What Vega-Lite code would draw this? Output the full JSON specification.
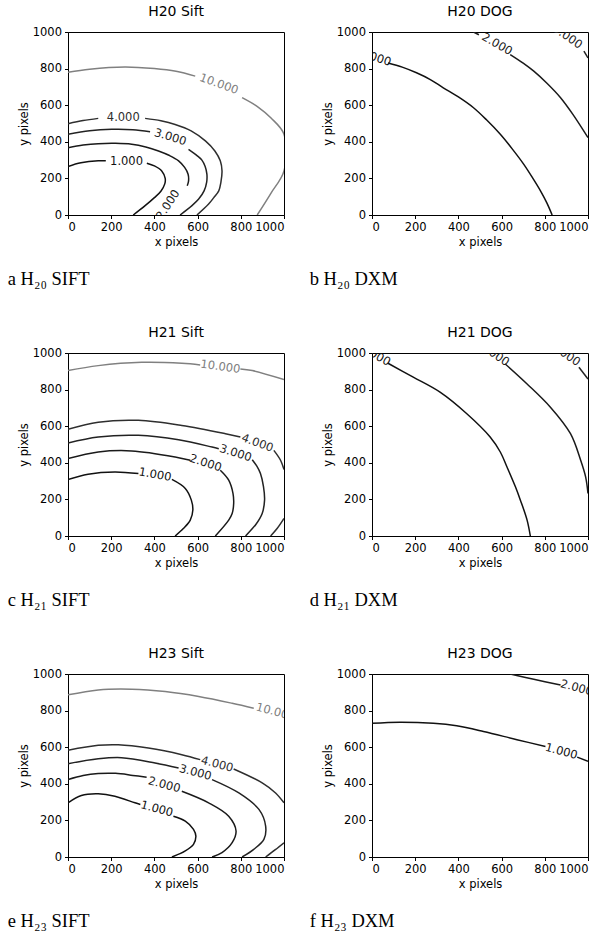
{
  "$schema": "https://vega.github.io/schema/vega-lite/v6.json",
  "padding": {"left": 7, "top": 4, "right": 0, "bottom": 0},
  "datasets": {
    "lines": [
      {"p":"a","lv":10,"s":1,"i":0,"x":0,"y":780},{"p":"a","lv":10,"s":1,"i":1,"x":100,"y":797},{"p":"a","lv":10,"s":1,"i":2,"x":264,"y":809},{"p":"a","lv":10,"s":1,"i":3,"x":400,"y":800},{"p":"a","lv":10,"s":1,"i":4,"x":500,"y":785},{"p":"a","lv":10,"s":1,"i":5,"x":589,"y":759},
      {"p":"a","lv":10,"s":2,"i":0,"x":806,"y":641},{"p":"a","lv":10,"s":2,"i":1,"x":880,"y":590},{"p":"a","lv":10,"s":2,"i":2,"x":940,"y":530},{"p":"a","lv":10,"s":2,"i":3,"x":1000,"y":441},{"p":"a","lv":10,"s":2,"i":4,"x":1000,"y":241},{"p":"a","lv":10,"s":2,"i":5,"x":940,"y":120},{"p":"a","lv":10,"s":2,"i":6,"x":876,"y":0},
      {"p":"a","lv":4,"s":1,"i":0,"x":0,"y":499},{"p":"a","lv":4,"s":1,"i":1,"x":70,"y":516},{"p":"a","lv":4,"s":1,"i":2,"x":140,"y":528},
      {"p":"a","lv":4,"s":2,"i":0,"x":357,"y":528},{"p":"a","lv":4,"s":2,"i":1,"x":430,"y":515},{"p":"a","lv":4,"s":2,"i":2,"x":496,"y":495},{"p":"a","lv":4,"s":2,"i":3,"x":570,"y":460},{"p":"a","lv":4,"s":2,"i":4,"x":636,"y":405},{"p":"a","lv":4,"s":2,"i":5,"x":680,"y":350},{"p":"a","lv":4,"s":2,"i":6,"x":705,"y":296},{"p":"a","lv":4,"s":2,"i":7,"x":713,"y":241},{"p":"a","lv":4,"s":2,"i":8,"x":708,"y":180},{"p":"a","lv":4,"s":2,"i":9,"x":698,"y":132},{"p":"a","lv":4,"s":2,"i":10,"x":675,"y":95},{"p":"a","lv":4,"s":2,"i":11,"x":651,"y":60},{"p":"a","lv":4,"s":2,"i":12,"x":597,"y":0},
      {"p":"a","lv":3,"s":1,"i":0,"x":0,"y":441},{"p":"a","lv":3,"s":1,"i":1,"x":100,"y":460},{"p":"a","lv":3,"s":1,"i":2,"x":202,"y":468},{"p":"a","lv":3,"s":1,"i":3,"x":300,"y":466},{"p":"a","lv":3,"s":1,"i":4,"x":380,"y":455},
      {"p":"a","lv":3,"s":2,"i":0,"x":558,"y":359},{"p":"a","lv":3,"s":2,"i":1,"x":600,"y":322},{"p":"a","lv":3,"s":2,"i":2,"x":620,"y":300},{"p":"a","lv":3,"s":2,"i":3,"x":635,"y":265},{"p":"a","lv":3,"s":2,"i":4,"x":643,"y":223},{"p":"a","lv":3,"s":2,"i":5,"x":642,"y":180},{"p":"a","lv":3,"s":2,"i":6,"x":630,"y":132},{"p":"a","lv":3,"s":2,"i":7,"x":605,"y":87},{"p":"a","lv":3,"s":2,"i":8,"x":574,"y":51},{"p":"a","lv":3,"s":2,"i":9,"x":519,"y":0},
      {"p":"a","lv":2,"s":1,"i":0,"x":0,"y":368},{"p":"a","lv":2,"s":1,"i":1,"x":70,"y":382},{"p":"a","lv":2,"s":1,"i":2,"x":140,"y":390},{"p":"a","lv":2,"s":1,"i":3,"x":220,"y":392},{"p":"a","lv":2,"s":1,"i":4,"x":295,"y":387},{"p":"a","lv":2,"s":1,"i":5,"x":360,"y":372},{"p":"a","lv":2,"s":1,"i":6,"x":419,"y":350},{"p":"a","lv":2,"s":1,"i":7,"x":470,"y":325},{"p":"a","lv":2,"s":1,"i":8,"x":512,"y":296},{"p":"a","lv":2,"s":1,"i":9,"x":540,"y":260},{"p":"a","lv":2,"s":1,"i":10,"x":556,"y":223},{"p":"a","lv":2,"s":1,"i":11,"x":558,"y":185},{"p":"a","lv":2,"s":1,"i":12,"x":552,"y":160},
      {"p":"a","lv":1,"s":1,"i":0,"x":0,"y":265},{"p":"a","lv":1,"s":1,"i":1,"x":60,"y":285},{"p":"a","lv":1,"s":1,"i":2,"x":140,"y":296},{"p":"a","lv":1,"s":1,"i":3,"x":175,"y":296},
      {"p":"a","lv":1,"s":2,"i":0,"x":365,"y":283},{"p":"a","lv":1,"s":2,"i":1,"x":400,"y":268},{"p":"a","lv":1,"s":2,"i":2,"x":434,"y":241},{"p":"a","lv":1,"s":2,"i":3,"x":450,"y":200},{"p":"a","lv":1,"s":2,"i":4,"x":448,"y":170},{"p":"a","lv":1,"s":2,"i":5,"x":430,"y":130},{"p":"a","lv":1,"s":2,"i":6,"x":400,"y":95},{"p":"a","lv":1,"s":2,"i":7,"x":357,"y":51},{"p":"a","lv":1,"s":2,"i":8,"x":302,"y":0},

      {"p":"b","lv":1,"s":1,"i":0,"x":74,"y":831},{"p":"b","lv":1,"s":1,"i":1,"x":140,"y":808},{"p":"b","lv":1,"s":1,"i":2,"x":206,"y":777},{"p":"b","lv":1,"s":1,"i":3,"x":270,"y":740},{"p":"b","lv":1,"s":1,"i":4,"x":330,"y":695},{"p":"b","lv":1,"s":1,"i":5,"x":400,"y":645},{"p":"b","lv":1,"s":1,"i":6,"x":470,"y":586},{"p":"b","lv":1,"s":1,"i":7,"x":530,"y":520},{"p":"b","lv":1,"s":1,"i":8,"x":594,"y":441},{"p":"b","lv":1,"s":1,"i":9,"x":650,"y":360},{"p":"b","lv":1,"s":1,"i":10,"x":702,"y":278},{"p":"b","lv":1,"s":1,"i":11,"x":745,"y":200},{"p":"b","lv":1,"s":1,"i":12,"x":780,"y":132},{"p":"b","lv":1,"s":1,"i":13,"x":810,"y":65},{"p":"b","lv":1,"s":1,"i":14,"x":834,"y":0},
      {"p":"b","lv":2,"s":1,"i":0,"x":470,"y":1000},{"p":"b","lv":2,"s":1,"i":1,"x":495,"y":985},
      {"p":"b","lv":2,"s":2,"i":0,"x":640,"y":877},{"p":"b","lv":2,"s":2,"i":1,"x":700,"y":830},{"p":"b","lv":2,"s":2,"i":2,"x":749,"y":786},{"p":"b","lv":2,"s":2,"i":3,"x":810,"y":720},{"p":"b","lv":2,"s":2,"i":4,"x":873,"y":641},{"p":"b","lv":2,"s":2,"i":5,"x":930,"y":550},{"p":"b","lv":2,"s":2,"i":6,"x":1000,"y":423},
      {"p":"b","lv":3,"s":1,"i":0,"x":981,"y":895},{"p":"b","lv":3,"s":1,"i":1,"x":1000,"y":858},

      {"p":"c","lv":10,"s":1,"i":0,"x":0,"y":904},{"p":"c","lv":10,"s":1,"i":1,"x":140,"y":931},{"p":"c","lv":10,"s":1,"i":2,"x":341,"y":949},{"p":"c","lv":10,"s":1,"i":3,"x":527,"y":944},{"p":"c","lv":10,"s":1,"i":4,"x":612,"y":935},
      {"p":"c","lv":10,"s":2,"i":0,"x":798,"y":913},{"p":"c","lv":10,"s":2,"i":1,"x":853,"y":904},{"p":"c","lv":10,"s":2,"i":2,"x":1000,"y":855},
      {"p":"c","lv":4,"s":1,"i":0,"x":0,"y":583},{"p":"c","lv":4,"s":1,"i":1,"x":140,"y":622},{"p":"c","lv":4,"s":1,"i":2,"x":326,"y":632},{"p":"c","lv":4,"s":1,"i":3,"x":527,"y":604},{"p":"c","lv":4,"s":1,"i":4,"x":729,"y":559},{"p":"c","lv":4,"s":1,"i":5,"x":798,"y":541},
      {"p":"c","lv":4,"s":2,"i":0,"x":953,"y":468},{"p":"c","lv":4,"s":2,"i":1,"x":984,"y":414},{"p":"c","lv":4,"s":2,"i":2,"x":1000,"y":363},
      {"p":"c","lv":4,"s":3,"i":0,"x":938,"y":0},{"p":"c","lv":4,"s":3,"i":1,"x":969,"y":42},{"p":"c","lv":4,"s":3,"i":2,"x":1000,"y":96},
      {"p":"c","lv":3,"s":1,"i":0,"x":0,"y":508},{"p":"c","lv":3,"s":1,"i":1,"x":140,"y":541},{"p":"c","lv":3,"s":1,"i":2,"x":326,"y":550},{"p":"c","lv":3,"s":1,"i":3,"x":512,"y":526},{"p":"c","lv":3,"s":1,"i":4,"x":667,"y":486},{"p":"c","lv":3,"s":1,"i":5,"x":698,"y":477},
      {"p":"c","lv":3,"s":2,"i":0,"x":853,"y":417},{"p":"c","lv":3,"s":2,"i":1,"x":875,"y":380},{"p":"c","lv":3,"s":2,"i":2,"x":891,"y":341},{"p":"c","lv":3,"s":2,"i":3,"x":905,"y":270},{"p":"c","lv":3,"s":2,"i":4,"x":910,"y":196},{"p":"c","lv":3,"s":2,"i":5,"x":899,"y":123},{"p":"c","lv":3,"s":2,"i":6,"x":868,"y":60},{"p":"c","lv":3,"s":2,"i":7,"x":822,"y":0},
      {"p":"c","lv":2,"s":1,"i":0,"x":0,"y":423},{"p":"c","lv":2,"s":1,"i":1,"x":140,"y":459},{"p":"c","lv":2,"s":1,"i":2,"x":295,"y":465},{"p":"c","lv":2,"s":1,"i":3,"x":496,"y":432},{"p":"c","lv":2,"s":1,"i":4,"x":566,"y":414},
      {"p":"c","lv":2,"s":2,"i":0,"x":705,"y":359},{"p":"c","lv":2,"s":2,"i":1,"x":744,"y":305},{"p":"c","lv":2,"s":2,"i":2,"x":764,"y":232},{"p":"c","lv":2,"s":2,"i":3,"x":767,"y":178},{"p":"c","lv":2,"s":2,"i":4,"x":760,"y":123},{"p":"c","lv":2,"s":2,"i":5,"x":744,"y":87},{"p":"c","lv":2,"s":2,"i":6,"x":682,"y":0},
      {"p":"c","lv":1,"s":1,"i":0,"x":0,"y":309},{"p":"c","lv":1,"s":1,"i":1,"x":93,"y":338},{"p":"c","lv":1,"s":1,"i":2,"x":217,"y":350},{"p":"c","lv":1,"s":1,"i":3,"x":326,"y":341},
      {"p":"c","lv":1,"s":2,"i":0,"x":481,"y":309},{"p":"c","lv":1,"s":2,"i":1,"x":543,"y":260},{"p":"c","lv":1,"s":2,"i":2,"x":571,"y":196},{"p":"c","lv":1,"s":2,"i":3,"x":578,"y":142},{"p":"c","lv":1,"s":2,"i":4,"x":566,"y":87},{"p":"c","lv":1,"s":2,"i":5,"x":535,"y":42},{"p":"c","lv":1,"s":2,"i":6,"x":496,"y":0},

      {"p":"d","lv":1,"s":1,"i":0,"x":74,"y":944},{"p":"d","lv":1,"s":1,"i":1,"x":191,"y":868},{"p":"d","lv":1,"s":1,"i":2,"x":315,"y":786},{"p":"d","lv":1,"s":1,"i":3,"x":439,"y":668},{"p":"d","lv":1,"s":1,"i":4,"x":547,"y":541},{"p":"d","lv":1,"s":1,"i":5,"x":594,"y":459},{"p":"d","lv":1,"s":1,"i":6,"x":625,"y":377},{"p":"d","lv":1,"s":1,"i":7,"x":664,"y":269},{"p":"d","lv":1,"s":1,"i":8,"x":687,"y":196},{"p":"d","lv":1,"s":1,"i":9,"x":718,"y":87},{"p":"d","lv":1,"s":1,"i":10,"x":733,"y":0},
      {"p":"d","lv":2,"s":1,"i":0,"x":617,"y":940},{"p":"d","lv":2,"s":1,"i":1,"x":718,"y":831},{"p":"d","lv":2,"s":1,"i":2,"x":826,"y":704},{"p":"d","lv":2,"s":1,"i":3,"x":919,"y":559},{"p":"d","lv":2,"s":1,"i":4,"x":966,"y":414},{"p":"d","lv":2,"s":1,"i":5,"x":989,"y":323},{"p":"d","lv":2,"s":1,"i":6,"x":1000,"y":232},
      {"p":"d","lv":3,"s":1,"i":0,"x":958,"y":922},{"p":"d","lv":3,"s":1,"i":1,"x":1000,"y":858},

      {"p":"e","lv":10,"s":1,"i":0,"x":0,"y":886},{"p":"e","lv":10,"s":1,"i":1,"x":140,"y":913},{"p":"e","lv":10,"s":1,"i":2,"x":295,"y":917},{"p":"e","lv":10,"s":1,"i":3,"x":450,"y":904},{"p":"e","lv":10,"s":1,"i":4,"x":605,"y":877},{"p":"e","lv":10,"s":1,"i":5,"x":760,"y":840},{"p":"e","lv":10,"s":1,"i":6,"x":860,"y":813},
      {"p":"e","lv":4,"s":1,"i":0,"x":0,"y":583},{"p":"e","lv":4,"s":1,"i":1,"x":140,"y":610},{"p":"e","lv":4,"s":1,"i":2,"x":233,"y":613},{"p":"e","lv":4,"s":1,"i":3,"x":372,"y":595},{"p":"e","lv":4,"s":1,"i":4,"x":527,"y":559},{"p":"e","lv":4,"s":1,"i":5,"x":612,"y":532},
      {"p":"e","lv":4,"s":2,"i":0,"x":767,"y":481},{"p":"e","lv":4,"s":2,"i":1,"x":899,"y":405},{"p":"e","lv":4,"s":2,"i":2,"x":961,"y":350},{"p":"e","lv":4,"s":2,"i":3,"x":1000,"y":296},
      {"p":"e","lv":4,"s":3,"i":0,"x":915,"y":0},{"p":"e","lv":4,"s":3,"i":1,"x":960,"y":40},{"p":"e","lv":4,"s":3,"i":2,"x":1000,"y":78},
      {"p":"e","lv":3,"s":1,"i":0,"x":0,"y":510},{"p":"e","lv":3,"s":1,"i":1,"x":140,"y":537},{"p":"e","lv":3,"s":1,"i":2,"x":248,"y":543},{"p":"e","lv":3,"s":1,"i":3,"x":403,"y":514},{"p":"e","lv":3,"s":1,"i":4,"x":512,"y":486},
      {"p":"e","lv":3,"s":2,"i":0,"x":667,"y":423},{"p":"e","lv":3,"s":2,"i":1,"x":791,"y":350},{"p":"e","lv":3,"s":2,"i":2,"x":884,"y":260},{"p":"e","lv":3,"s":2,"i":3,"x":915,"y":169},{"p":"e","lv":3,"s":2,"i":4,"x":907,"y":96},{"p":"e","lv":3,"s":2,"i":5,"x":860,"y":42},{"p":"e","lv":3,"s":2,"i":6,"x":806,"y":0},
      {"p":"e","lv":2,"s":1,"i":0,"x":0,"y":423},{"p":"e","lv":2,"s":1,"i":1,"x":70,"y":445},{"p":"e","lv":2,"s":1,"i":2,"x":140,"y":456},{"p":"e","lv":2,"s":1,"i":3,"x":220,"y":457},{"p":"e","lv":2,"s":1,"i":4,"x":300,"y":446},{"p":"e","lv":2,"s":1,"i":5,"x":364,"y":436},
      {"p":"e","lv":2,"s":2,"i":0,"x":527,"y":359},{"p":"e","lv":2,"s":2,"i":1,"x":651,"y":296},{"p":"e","lv":2,"s":2,"i":2,"x":744,"y":223},{"p":"e","lv":2,"s":2,"i":3,"x":778,"y":142},{"p":"e","lv":2,"s":2,"i":4,"x":760,"y":78},{"p":"e","lv":2,"s":2,"i":5,"x":713,"y":24},{"p":"e","lv":2,"s":2,"i":6,"x":667,"y":0},
      {"p":"e","lv":1,"s":1,"i":0,"x":0,"y":296},{"p":"e","lv":1,"s":1,"i":1,"x":62,"y":336},{"p":"e","lv":1,"s":1,"i":2,"x":140,"y":345},{"p":"e","lv":1,"s":1,"i":3,"x":217,"y":332},{"p":"e","lv":1,"s":1,"i":4,"x":310,"y":296},{"p":"e","lv":1,"s":1,"i":5,"x":335,"y":287},
      {"p":"e","lv":1,"s":2,"i":0,"x":488,"y":223},{"p":"e","lv":1,"s":2,"i":1,"x":543,"y":196},{"p":"e","lv":1,"s":2,"i":2,"x":581,"y":151},{"p":"e","lv":1,"s":2,"i":3,"x":592,"y":114},{"p":"e","lv":1,"s":2,"i":4,"x":581,"y":69},{"p":"e","lv":1,"s":2,"i":5,"x":543,"y":33},{"p":"e","lv":1,"s":2,"i":6,"x":481,"y":0},

      {"p":"f","lv":1,"s":1,"i":0,"x":0,"y":731},{"p":"f","lv":1,"s":1,"i":1,"x":129,"y":737},{"p":"f","lv":1,"s":1,"i":2,"x":284,"y":731},{"p":"f","lv":1,"s":1,"i":3,"x":392,"y":717},{"p":"f","lv":1,"s":1,"i":4,"x":516,"y":686},{"p":"f","lv":1,"s":1,"i":5,"x":671,"y":641},{"p":"f","lv":1,"s":1,"i":6,"x":803,"y":604},
      {"p":"f","lv":1,"s":2,"i":0,"x":950,"y":546},{"p":"f","lv":1,"s":2,"i":1,"x":1000,"y":523},
      {"p":"f","lv":2,"s":1,"i":0,"x":640,"y":1000},{"p":"f","lv":2,"s":1,"i":1,"x":749,"y":971},{"p":"f","lv":2,"s":1,"i":2,"x":873,"y":940}
    ],
    "labels": [
      {"p":"a","lv":10,"x":698,"y":713,"rot":20,"t":"10.000"},
      {"p":"a","lv":4,"x":256,"y":532,"rot":0,"t":"4.000"},
      {"p":"a","lv":3,"x":473,"y":423,"rot":17,"t":"3.000"},
      {"p":"a","lv":2,"x":465,"y":55,"rot":-57,"t":"2.000"},
      {"p":"a","lv":1,"x":271,"y":290,"rot":0,"t":"1.000"},
      {"p":"b","lv":1,"x":14,"y":858,"rot":18,"t":"1.000"},
      {"p":"b","lv":2,"x":578,"y":931,"rot":30,"t":"2.000"},
      {"p":"b","lv":3,"x":904,"y":971,"rot":35,"t":"3.000"},
      {"p":"c","lv":10,"x":705,"y":922,"rot":8,"t":"10.000"},
      {"p":"c","lv":4,"x":876,"y":505,"rot":20,"t":"4.000"},
      {"p":"c","lv":3,"x":775,"y":450,"rot":18,"t":"3.000"},
      {"p":"c","lv":2,"x":636,"y":396,"rot":18,"t":"2.000"},
      {"p":"c","lv":1,"x":403,"y":332,"rot":10,"t":"1.000"},
      {"p":"d","lv":1,"x":14,"y":987,"rot":30,"t":"1.000"},
      {"p":"d","lv":2,"x":566,"y":991,"rot":35,"t":"2.000"},
      {"p":"d","lv":3,"x":895,"y":991,"rot":35,"t":"3.000"},
      {"p":"e","lv":10,"x":961,"y":789,"rot":15,"t":"10.000"},
      {"p":"e","lv":4,"x":690,"y":504,"rot":15,"t":"4.000"},
      {"p":"e","lv":3,"x":589,"y":459,"rot":15,"t":"3.000"},
      {"p":"e","lv":2,"x":445,"y":392,"rot":15,"t":"2.000"},
      {"p":"e","lv":1,"x":411,"y":260,"rot":15,"t":"1.000"},
      {"p":"f","lv":1,"x":876,"y":574,"rot":15,"t":"1.000"},
      {"p":"f","lv":2,"x":947,"y":922,"rot":15,"t":"2.000"}
    ]
  },
  "spacing": 36,
  "vconcat": [
    {"hconcat": [
      {"vconcat": [{
        "width": 216, "height": 183, "title": {"text": "H20 Sift"},
        "layer": [
          {"data": {"name": "lines"}, "transform": [{"filter": "datum.p == 'a'"}], "mark": {"type": "line", "clip": true, "strokeWidth": 1.5, "interpolate": "catmull-rom"},
           "encoding": {"x": {"field": "x", "type": "quantitative", "scale": {"domain": [0, 1000], "nice": false}, "axis": {"values": [0,200,400,600,800,1000], "title": "x pixels"}},
                        "y": {"field": "y", "type": "quantitative", "scale": {"domain": [0, 1000], "nice": false}, "axis": {"values": [0,200,400,600,800,1000], "title": "y pixels"}},
                        "color": {"field": "lv", "type": "ordinal", "scale": {"domain": [1,2,3,4,10], "range": ["#111111","#1a1a1a","#222222","#2e2e2e","#808080"]}, "legend": null},
                        "detail": {"field": "s"}, "order": {"field": "i"}}},
          {"data": {"name": "labels"}, "transform": [{"filter": "datum.p == 'a'"}], "mark": {"type": "text", "clip": true, "fontSize": 11.5, "font": "DejaVu Sans"},
           "encoding": {"x": {"field": "x", "type": "quantitative", "axis": {"values": [0,200,400,600,800,1000], "title": "x pixels"}}, "y": {"field": "y", "type": "quantitative", "axis": {"values": [0,200,400,600,800,1000], "title": "y pixels"}}, "text": {"field": "t"}, "angle": {"field": "rot", "type": "quantitative", "scale": null},
                        "color": {"field": "lv", "type": "ordinal", "scale": {"domain": [1,2,3,4,10], "range": ["#111111","#1a1a1a","#222222","#2e2e2e","#808080"]}, "legend": null}}}
        ]}],
       "title": {"text": "a H₂₀ SIFT", "orient": "bottom", "anchor": "start", "font": "Liberation Serif", "fontSize": 18.5, "offset": 22, "dx": -10}},
      {"vconcat": [{
        "width": 216, "height": 183, "title": {"text": "H20 DOG"},
        "layer": [
          {"data": {"name": "lines"}, "transform": [{"filter": "datum.p == 'b'"}], "mark": {"type": "line", "clip": true, "strokeWidth": 1.5, "interpolate": "catmull-rom"},
           "encoding": {"x": {"field": "x", "type": "quantitative", "scale": {"domain": [0, 1000], "nice": false}, "axis": {"values": [0,200,400,600,800,1000], "title": "x pixels"}},
                        "y": {"field": "y", "type": "quantitative", "scale": {"domain": [0, 1000], "nice": false}, "axis": {"values": [0,200,400,600,800,1000], "title": "y pixels"}},
                        "color": {"field": "lv", "type": "ordinal", "scale": {"domain": [1,2,3,4,10], "range": ["#111111","#1a1a1a","#222222","#2e2e2e","#808080"]}, "legend": null},
                        "detail": {"field": "s"}, "order": {"field": "i"}}},
          {"data": {"name": "labels"}, "transform": [{"filter": "datum.p == 'b'"}], "mark": {"type": "text", "clip": true, "fontSize": 11.5, "font": "DejaVu Sans"},
           "encoding": {"x": {"field": "x", "type": "quantitative", "axis": {"values": [0,200,400,600,800,1000], "title": "x pixels"}}, "y": {"field": "y", "type": "quantitative", "axis": {"values": [0,200,400,600,800,1000], "title": "y pixels"}}, "text": {"field": "t"}, "angle": {"field": "rot", "type": "quantitative", "scale": null},
                        "color": {"field": "lv", "type": "ordinal", "scale": {"domain": [1,2,3,4,10], "range": ["#111111","#1a1a1a","#222222","#2e2e2e","#808080"]}, "legend": null}}}
        ]}],
       "title": {"text": "b H₂₀ DXM", "orient": "bottom", "anchor": "start", "font": "Liberation Serif", "fontSize": 18.5, "offset": 22, "dx": -12}}
    ], "spacing": 24},
    {"hconcat": [
      {"vconcat": [{
        "width": 216, "height": 183, "title": {"text": "H21 Sift"},
        "layer": [
          {"data": {"name": "lines"}, "transform": [{"filter": "datum.p == 'c'"}], "mark": {"type": "line", "clip": true, "strokeWidth": 1.5, "interpolate": "catmull-rom"},
           "encoding": {"x": {"field": "x", "type": "quantitative", "scale": {"domain": [0, 1000], "nice": false}, "axis": {"values": [0,200,400,600,800,1000], "title": "x pixels"}},
                        "y": {"field": "y", "type": "quantitative", "scale": {"domain": [0, 1000], "nice": false}, "axis": {"values": [0,200,400,600,800,1000], "title": "y pixels"}},
                        "color": {"field": "lv", "type": "ordinal", "scale": {"domain": [1,2,3,4,10], "range": ["#111111","#1a1a1a","#222222","#2e2e2e","#808080"]}, "legend": null},
                        "detail": {"field": "s"}, "order": {"field": "i"}}},
          {"data": {"name": "labels"}, "transform": [{"filter": "datum.p == 'c'"}], "mark": {"type": "text", "clip": true, "fontSize": 11.5, "font": "DejaVu Sans"},
           "encoding": {"x": {"field": "x", "type": "quantitative", "axis": {"values": [0,200,400,600,800,1000], "title": "x pixels"}}, "y": {"field": "y", "type": "quantitative", "axis": {"values": [0,200,400,600,800,1000], "title": "y pixels"}}, "text": {"field": "t"}, "angle": {"field": "rot", "type": "quantitative", "scale": null},
                        "color": {"field": "lv", "type": "ordinal", "scale": {"domain": [1,2,3,4,10], "range": ["#111111","#1a1a1a","#222222","#2e2e2e","#808080"]}, "legend": null}}}
        ]}],
       "title": {"text": "c H₂₁ SIFT", "orient": "bottom", "anchor": "start", "font": "Liberation Serif", "fontSize": 18.5, "offset": 22, "dx": -10}},
      {"vconcat": [{
        "width": 216, "height": 183, "title": {"text": "H21 DOG"},
        "layer": [
          {"data": {"name": "lines"}, "transform": [{"filter": "datum.p == 'd'"}], "mark": {"type": "line", "clip": true, "strokeWidth": 1.5, "interpolate": "catmull-rom"},
           "encoding": {"x": {"field": "x", "type": "quantitative", "scale": {"domain": [0, 1000], "nice": false}, "axis": {"values": [0,200,400,600,800,1000], "title": "x pixels"}},
                        "y": {"field": "y", "type": "quantitative", "scale": {"domain": [0, 1000], "nice": false}, "axis": {"values": [0,200,400,600,800,1000], "title": "y pixels"}},
                        "color": {"field": "lv", "type": "ordinal", "scale": {"domain": [1,2,3,4,10], "range": ["#111111","#1a1a1a","#222222","#2e2e2e","#808080"]}, "legend": null},
                        "detail": {"field": "s"}, "order": {"field": "i"}}},
          {"data": {"name": "labels"}, "transform": [{"filter": "datum.p == 'd'"}], "mark": {"type": "text", "clip": true, "fontSize": 11.5, "font": "DejaVu Sans"},
           "encoding": {"x": {"field": "x", "type": "quantitative", "axis": {"values": [0,200,400,600,800,1000], "title": "x pixels"}}, "y": {"field": "y", "type": "quantitative", "axis": {"values": [0,200,400,600,800,1000], "title": "y pixels"}}, "text": {"field": "t"}, "angle": {"field": "rot", "type": "quantitative", "scale": null},
                        "color": {"field": "lv", "type": "ordinal", "scale": {"domain": [1,2,3,4,10], "range": ["#111111","#1a1a1a","#222222","#2e2e2e","#808080"]}, "legend": null}}}
        ]}],
       "title": {"text": "d H₂₁ DXM", "orient": "bottom", "anchor": "start", "font": "Liberation Serif", "fontSize": 18.5, "offset": 22, "dx": -12}}
    ], "spacing": 24},
    {"hconcat": [
      {"vconcat": [{
        "width": 216, "height": 183, "title": {"text": "H23 Sift"},
        "layer": [
          {"data": {"name": "lines"}, "transform": [{"filter": "datum.p == 'e'"}], "mark": {"type": "line", "clip": true, "strokeWidth": 1.5, "interpolate": "catmull-rom"},
           "encoding": {"x": {"field": "x", "type": "quantitative", "scale": {"domain": [0, 1000], "nice": false}, "axis": {"values": [0,200,400,600,800,1000], "title": "x pixels"}},
                        "y": {"field": "y", "type": "quantitative", "scale": {"domain": [0, 1000], "nice": false}, "axis": {"values": [0,200,400,600,800,1000], "title": "y pixels"}},
                        "color": {"field": "lv", "type": "ordinal", "scale": {"domain": [1,2,3,4,10], "range": ["#111111","#1a1a1a","#222222","#2e2e2e","#808080"]}, "legend": null},
                        "detail": {"field": "s"}, "order": {"field": "i"}}},
          {"data": {"name": "labels"}, "transform": [{"filter": "datum.p == 'e'"}], "mark": {"type": "text", "clip": true, "fontSize": 11.5, "font": "DejaVu Sans"},
           "encoding": {"x": {"field": "x", "type": "quantitative", "axis": {"values": [0,200,400,600,800,1000], "title": "x pixels"}}, "y": {"field": "y", "type": "quantitative", "axis": {"values": [0,200,400,600,800,1000], "title": "y pixels"}}, "text": {"field": "t"}, "angle": {"field": "rot", "type": "quantitative", "scale": null},
                        "color": {"field": "lv", "type": "ordinal", "scale": {"domain": [1,2,3,4,10], "range": ["#111111","#1a1a1a","#222222","#2e2e2e","#808080"]}, "legend": null}}}
        ]}],
       "title": {"text": "e H₂₃ SIFT", "orient": "bottom", "anchor": "start", "font": "Liberation Serif", "fontSize": 18.5, "offset": 22, "dx": -10}},
      {"vconcat": [{
        "width": 216, "height": 183, "title": {"text": "H23 DOG"},
        "layer": [
          {"data": {"name": "lines"}, "transform": [{"filter": "datum.p == 'f'"}], "mark": {"type": "line", "clip": true, "strokeWidth": 1.5, "interpolate": "catmull-rom"},
           "encoding": {"x": {"field": "x", "type": "quantitative", "scale": {"domain": [0, 1000], "nice": false}, "axis": {"values": [0,200,400,600,800,1000], "title": "x pixels"}},
                        "y": {"field": "y", "type": "quantitative", "scale": {"domain": [0, 1000], "nice": false}, "axis": {"values": [0,200,400,600,800,1000], "title": "y pixels"}},
                        "color": {"field": "lv", "type": "ordinal", "scale": {"domain": [1,2,3,4,10], "range": ["#111111","#1a1a1a","#222222","#2e2e2e","#808080"]}, "legend": null},
                        "detail": {"field": "s"}, "order": {"field": "i"}}},
          {"data": {"name": "labels"}, "transform": [{"filter": "datum.p == 'f'"}], "mark": {"type": "text", "clip": true, "fontSize": 11.5, "font": "DejaVu Sans"},
           "encoding": {"x": {"field": "x", "type": "quantitative", "axis": {"values": [0,200,400,600,800,1000], "title": "x pixels"}}, "y": {"field": "y", "type": "quantitative", "axis": {"values": [0,200,400,600,800,1000], "title": "y pixels"}}, "text": {"field": "t"}, "angle": {"field": "rot", "type": "quantitative", "scale": null},
                        "color": {"field": "lv", "type": "ordinal", "scale": {"domain": [1,2,3,4,10], "range": ["#111111","#1a1a1a","#222222","#2e2e2e","#808080"]}, "legend": null}}}
        ]}],
       "title": {"text": "f H₂₃ DXM", "orient": "bottom", "anchor": "start", "font": "Liberation Serif", "fontSize": 18.5, "offset": 22, "dx": -12}}
    ], "spacing": 24}
  ],
  "config": {
    "font": "DejaVu Sans",
    "view": {"stroke": "black", "strokeWidth": 1},
    "axis": {"grid": false, "format": "d", "labelOverlap": false, "domainColor": "black", "tickColor": "black", "tickSize": 3.5, "labelFont": "DejaVu Sans", "labelFontSize": 11.5, "labelColor": "black", "labelPadding": 3, "titleFont": "DejaVu Sans", "titleFontSize": 11.5, "titleFontWeight": "normal", "titleColor": "black", "titlePadding": 3},
    "title": {"font": "DejaVu Sans", "fontSize": 14, "fontWeight": "normal", "color": "black", "offset": 7}
  }
}
